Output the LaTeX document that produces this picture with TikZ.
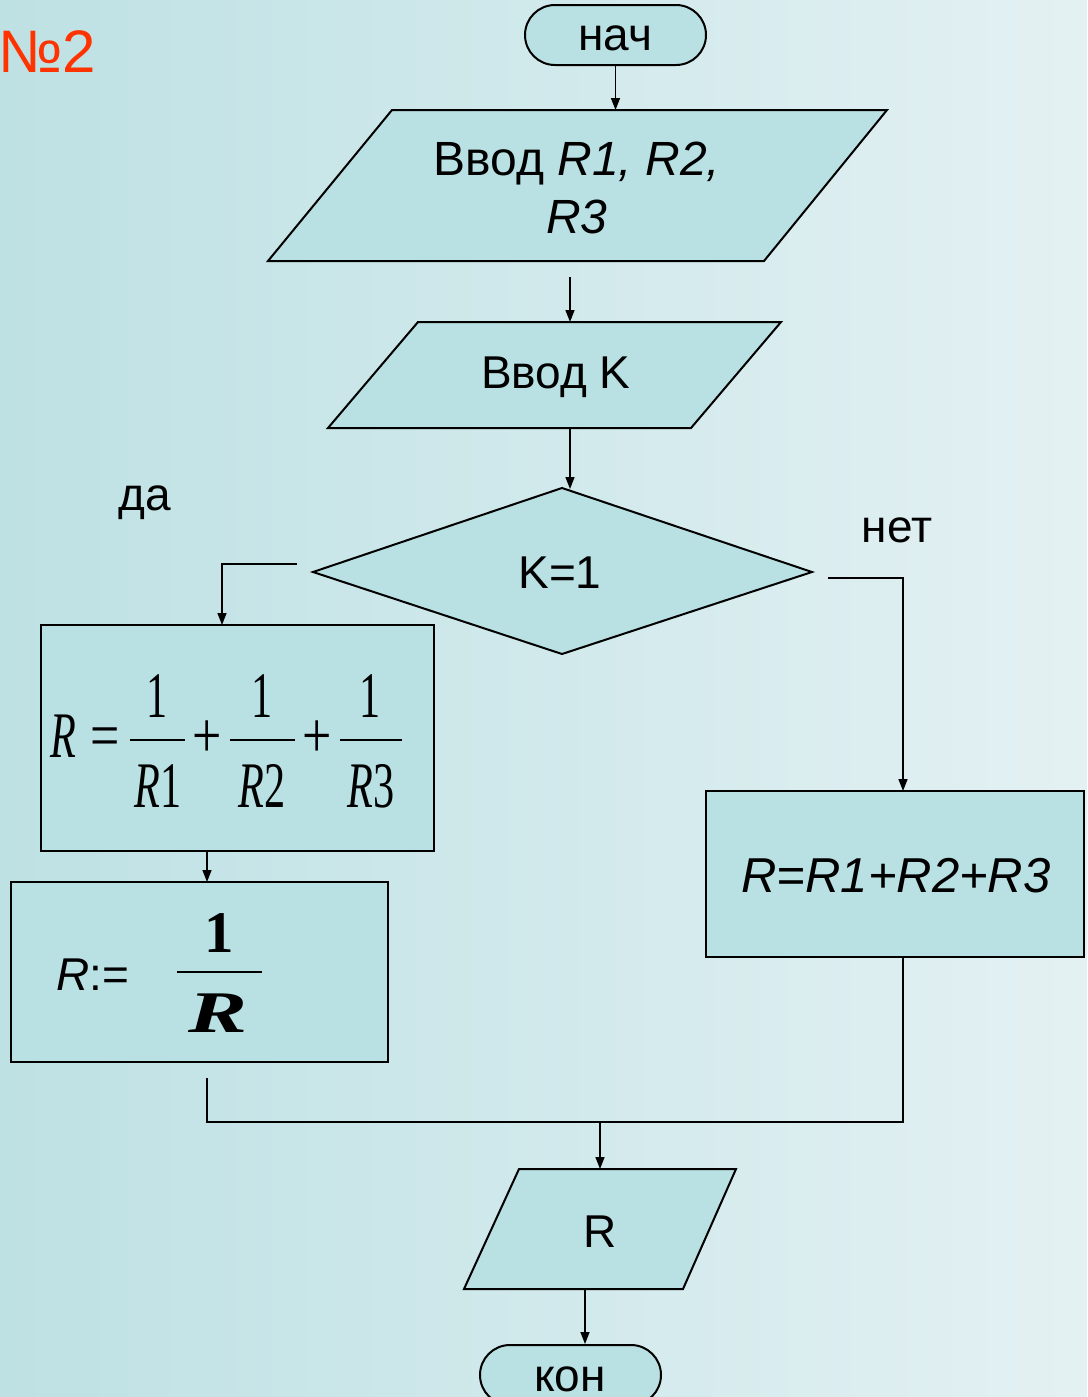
\documentclass[tikz,border=0pt]{standalone}
\usepackage{fontspec}
\setmainfont{Liberation Sans}
\newfontfamily\serifc[FakeStretch=0.65]{Liberation Serif}
\newfontfamily\serifo[FakeStretch=0.8]{Liberation Serif}
\newfontfamily\serifw[FakeStretch=1.5]{Liberation Serif}
\newfontfamily\serifn{Liberation Serif}
\usetikzlibrary{arrows.meta,shapes.misc}
\definecolor{bgL}{HTML}{BEE1E4}
\definecolor{bgR}{HTML}{E4F1F3}
\definecolor{fillc}{HTML}{B9E0E3}
\definecolor{redc}{HTML}{FF3300}
\tikzset{
  shapebox/.style={draw=black, fill=fillc, line width=1pt, line join=miter},
  conn/.style={draw=black, line width=0.75pt},
  arr/.style={conn, -{Triangle[length=6pt,width=4.5pt]}},
  txt/.style={inner sep=0pt, font=\fontsize{23pt}{27pt}\selectfont},
  frm/.style={inner sep=0pt, anchor=base, font=\serifc\fontsize{32.5pt}{36pt}\selectfont},
  opr/.style={inner sep=0pt, anchor=base, font=\serifo\fontsize{32.5pt}{36pt}\selectfont},
  bar/.style={draw=black, line width=0.9pt},
}
\begin{document}
\begin{tikzpicture}[x=0.5pt,y=-0.5pt]
\shade[left color=bgL,right color=bgR] (0,0) rectangle (1087,1397);
\useasboundingbox (0,0) rectangle (1087,1397);

% title
\node[txt, font=\fontsize{30pt}{34pt}\selectfont, text=redc] (title) at (47,52) {№2};

% start
\node[shapebox, rounded rectangle, minimum width=90.5pt, minimum height=30pt, inner sep=0pt] (start) at (615.5,35) {};
\node[txt] (startt) at (615,38) {нач};

% input 1
\draw[shapebox] (392,110) -- (887,110) -- (764,261) -- (268,261) -- cycle;
\coordinate (p1in) at (615.5,110);
\node[txt, align=center, font=\fontsize{24pt}{29pt}\selectfont] (p1) at (577,188) {Ввод \textit{R1, R2,}\\\textit{R3}};
\draw[arr] (start.south) -- (p1in);

% input 2
\coordinate (p1out) at (570,277);
\coordinate (p2in) at (570,322);
\draw[shapebox] (418,322) -- (781,322) -- (691,428) -- (328,428) -- cycle;
\node[txt] (p2) at (556,377) {Ввод K};
\draw[arr] (p1out) -- (p2in);

% decision
\coordinate (p2out) at (570,428);
\coordinate (dtop) at (570,489);
\draw[shapebox] (562,488) -- (812,572) -- (562,654) -- (313,572) -- cycle;
\node[txt] (dec) at (560,573) {K=1};
\draw[arr] (p2out) -- (dtop);
\node[txt] (yes) at (145,503) {да};
\node[txt] (no) at (897,530) {нет};

% box 1
\node[shapebox, rectangle, minimum width=196.5pt, minimum height=113pt, inner sep=0pt] (box1) at (237.5,738) {};
\coordinate (dleft) at (297,564);
\coordinate (b1in) at (222,625);
\draw[arr] (dleft) -| (b1in);
\node[frm] (f0) at (63,757) {\textit{R}};
\node[opr] (f1) at (105,757) {=};
\draw[bar] (130,740) -- (185,740);
\node[frm] (n1) at (157,717) {1};
\node[frm] (d1) at (158,807) {\textit{R}1};
\node[opr] (pl1) at (207,757) {+};
\draw[bar] (230,740) -- (295,740);
\node[frm] (n2) at (262,717) {1};
\node[frm] (d2) at (262,807) {\textit{R}2};
\node[opr] (pl2) at (317,757) {+};
\draw[bar] (340,740) -- (402,740);
\node[frm] (n3) at (370,717) {1};
\node[frm] (d3) at (371,807) {\textit{R}3};

% box 2
\node[shapebox, rectangle, minimum width=188.5pt, minimum height=90pt, inner sep=0pt] (box2) at (199.5,972) {};
\coordinate (b1out) at (207,851);
\coordinate (b2in) at (207,882);
\draw[arr] (b1out) -- (b2in);
\node[txt, anchor=base] (r2a) at (93,990) {\textit{R}:=};
\node[inner sep=0pt, anchor=base, font=\serifn\bfseries\fontsize{29.5pt}{33pt}\selectfont] (r2n) at (219,952) {1};
\draw[bar] (177,972) -- (262,972);
\node[inner sep=0pt, anchor=base, font=\serifw\bfseries\itshape\fontsize{29.5pt}{33pt}\selectfont] (r2d) at (218,1032) {R};

% box 3
\node[shapebox, rectangle, minimum width=189pt, minimum height=83pt, inner sep=0pt] (box3) at (895,874) {};
\coordinate (dright) at (828,578);
\coordinate (b3in) at (903,791);
\draw[arr] (dright) -| (b3in);
\node[txt, font=\fontsize{24.5pt}{29pt}\selectfont] (b3t) at (896,876) {\textit{R=R1+R2+R3}};

% merge
\coordinate (b2out) at (207,1078);
\coordinate (b3out) at (903,957);
\coordinate (mj) at (600,1122);
\draw[conn] (b2out) |- (mj) -| (b3out);
\coordinate (p3in) at (600,1169);
\draw[arr] (mj) -- (p3in);

% output
\draw[shapebox] (519,1169) -- (736,1169) -- (683,1289) -- (464,1289) -- cycle;
\node[txt] (p3) at (600,1232) {R};
\coordinate (p3out) at (585,1289);
\node[shapebox, rounded rectangle, minimum width=90.5pt, minimum height=30pt, inner sep=0pt] (stop) at (570.5,1375) {};
\node[txt] (stopt) at (570,1379) {кон};
\draw[arr] (p3out) -- (stop.north -| p3out);
\end{tikzpicture}
\end{document}
